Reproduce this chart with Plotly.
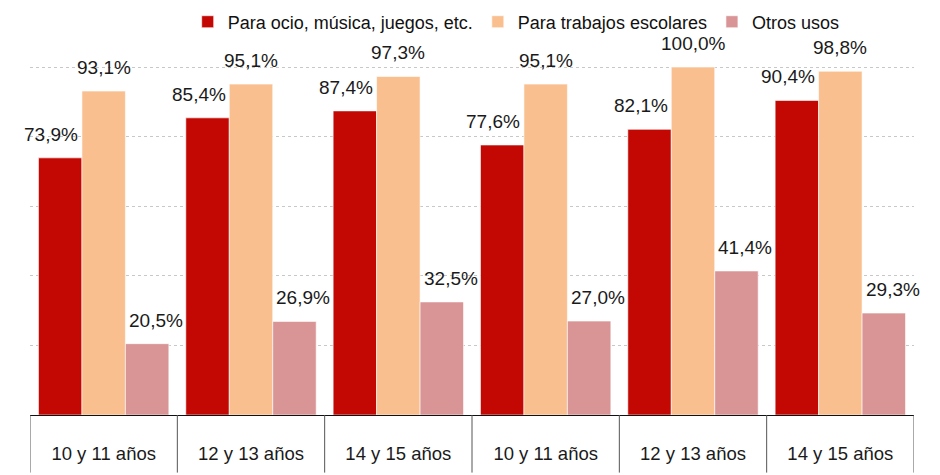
import plotly.graph_objects as go

categories = ["10 y 11 años", "12 y 13 años", "14 y 15 años",
              "10 y 11 años", "12 y 13 años", "14 y 15 años"]
series_names = ["Para ocio, música, juegos, etc.", "Para trabajos escolares", "Otros usos"]
ocio = [73.9, 85.4, 87.4, 77.6, 82.1, 90.4]
escolares = [93.1, 95.1, 97.3, 95.1, 100.0, 98.8]
otros = [20.5, 26.9, 32.5, 27.0, 41.4, 29.3]
y_ticks = [0, 20, 40, 60, 80, 100]

series_values = [ocio, escolares, otros]
colors = ["#C30803", "#F9BF8F", "#D99596"]
label_xshift = [-9, 0, 9]

FONT = "Liberation Sans, Arial, sans-serif"
BARGAP = 0.115
x_pos = list(range(len(categories)))

fig = go.Figure()
for name, vals, col in zip(series_names, series_values, colors):
    fig.add_trace(go.Bar(
        x=x_pos, y=vals, name=name,
        marker=dict(color=col, line=dict(color="rgba(255,255,255,0.6)", width=1)),
        hoverinfo="skip",
    ))

bw = (1 - BARGAP) / len(series_values)
annotations = []
for k, vals in enumerate(series_values):
    for i, v in enumerate(vals):
        annotations.append(dict(
            x=x_pos[i] + (k - 1) * bw, y=v, xref="x", yref="y",
            text=f"{v:.1f}%".replace(".", ","),
            showarrow=False, yanchor="bottom", xanchor="center",
            yshift=11, xshift=label_xshift[k],
            font=dict(family=FONT, size=19, color="#1a1a1a"),
        ))

# category boxes below the axis
shapes = []
for b in [p - 0.5 for p in x_pos] + [x_pos[-1] + 0.5]:
    shapes.append(dict(type="line", xref="x", yref="paper",
                       x0=b, x1=b, y0=0, y1=-0.165,
                       line=dict(color="#555555", width=1)))

# page body adds an 8px offset, so the figure is sized to fit the window
fig.update_layout(
    width=932, height=467,
    margin=dict(l=22, r=26, t=58, b=60, autoexpand=False),
    plot_bgcolor="white", paper_bgcolor="white",
    barmode="group", bargap=BARGAP, bargroupgap=0,
    font=dict(family=FONT, size=18, color="#1a1a1a"),
    showlegend=True,
    legend=dict(orientation="h", x=0.550, xanchor="center",
                y=1.126, yanchor="middle",
                font=dict(family=FONT, size=18, color="#111111"),
                itemclick=False, itemdoubleclick=False,
                traceorder="normal"),
    annotations=annotations,
    shapes=shapes,
)
fig.update_xaxes(
    range=[-0.5, len(categories) - 0.5],
    tickvals=x_pos, ticktext=categories,
    showgrid=False, zeroline=False,
    showline=True, linecolor="#111111", linewidth=1,
    ticks="", ticklabelstandoff=22, automargin=False,
    tickfont=dict(family=FONT, size=18.5, color="#1a1a1a"),
    fixedrange=True,
)
fig.update_yaxes(
    range=[0, 100.3], tickvals=y_ticks, showticklabels=False,
    showgrid=True, gridcolor="#c8c8c8", griddash="dot", gridwidth=1,
    zeroline=False, fixedrange=True, automargin=False,
)

fig.write_html("out.html", config={"displayModeBar": False})
